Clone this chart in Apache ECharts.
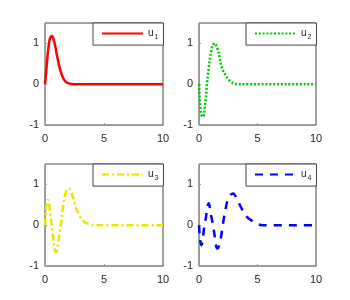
<!DOCTYPE html>
<html><head><meta charset="utf-8">
<script src="https://cdn.jsdelivr.net/npm/echarts@6/dist/echarts.min.js"></script>
<style>html,body{margin:0;padding:0;background:#fff}#c{width:350px;height:300px}</style>
</head><body><div id="c"></div>
<script>
const t1 = [0, 0.05, 0.1, 0.2, 0.3, 0.4, 0.5, 0.6, 0.7, 0.8, 0.9, 1.0, 1.2, 1.4, 1.6, 1.8, 2.0, 2.5, 3, 10];
const u1 = [0, 0.15, 0.3, 0.65, 0.92, 1.1, 1.17, 1.18, 1.13, 1.02, 0.88, 0.73, 0.45, 0.25, 0.12, 0.05, 0.02, 0, 0, 0];
const t2 = [0, 0.03, 0.06, 0.12, 0.2, 0.3, 0.43, 0.49, 0.58, 0.63, 0.69, 0.77, 0.86, 0.95, 1.06, 1.18, 1.35, 1.55, 1.72, 1.86, 2.06, 2.29, 2.64, 3.07, 3.5, 10];
const u2 = [0, -0.2, -0.375, -0.58, -0.75, -0.8, -0.75, -0.58, -0.375, -0.17, 0.04, 0.25, 0.46, 0.67, 0.83, 0.96, 1.0, 0.89, 0.71, 0.5, 0.33, 0.21, 0.08, 0.01, 0, 0];
const t3 = [0, 0.1, 0.2, 0.3, 0.42, 0.57, 0.7, 0.8, 0.9, 1.0, 1.13, 1.33, 1.55, 1.78, 2.03, 2.31, 2.6, 2.97, 3.39, 3.95, 4.5, 10];
const u3 = [0, 0.4, 0.62, 0.6, 0.33, 0, -0.32, -0.55, -0.66, -0.62, -0.4, 0, 0.5, 0.82, 0.9, 0.74, 0.45, 0.21, 0.07, 0.01, 0, 0];
const t4 = [0, 0.06, 0.12, 0.2, 0.3, 0.43, 0.58, 0.72, 0.83, 0.92, 1.0, 1.2, 1.35, 1.55, 1.7, 1.84, 2.01, 2.15, 2.35, 2.55, 2.92, 3.21, 3.64, 4.07, 4.64, 5.07, 5.5, 10];
const u4 = [0, -0.25, -0.4, -0.49, -0.4, -0.08, 0.17, 0.45, 0.54, 0.45, 0.29, 0, -0.28, -0.57, -0.52, -0.36, -0.04, 0.21, 0.5, 0.7, 0.78, 0.66, 0.41, 0.21, 0.09, 0.02, 0, 0];
const xTicks = [0, 5, 10];
const yTicks = [-1, 0, 1];
const names = ['u1', 'u2', 'u3', 'u4'];

const ts = [t1, t2, t3, t4];
const us = [u1, u2, u3, u4];
const colors = ['#ff0000', '#00c800', '#e6e600', '#0000ff'];
const dashes = ['solid', [2, 1.8], [7, 3, 2, 3], [8, 7]];
const grids = [
  {left: 45, top: 23, width: 118, height: 102},
  {left: 199, top: 23, width: 117, height: 102},
  {left: 45, top: 164, width: 118, height: 102},
  {left: 199, top: 164, width: 117, height: 102}
];
const font = 'Liberation Sans, Arial, sans-serif';
const option = {
  animation: false,
  backgroundColor: '#fff',
  grid: grids.map(g => Object.assign({show: true, borderColor: '#444', borderWidth: 1, backgroundColor: 'transparent'}, g)),
  xAxis: grids.map((g, i) => ({
    type: 'value', gridIndex: i, min: xTicks[0], max: xTicks[xTicks.length - 1], interval: 5,
    axisLine: {show: true, onZero: false, lineStyle: {color: '#999', width: 1}},
    axisTick: {show: true, inside: true, length: 2, lineStyle: {color: '#999'}},
    axisLabel: {fontSize: 11, color: '#262626', margin: 8, fontFamily: font},
    splitLine: {show: false}
  })),
  yAxis: grids.map((g, i) => ({
    type: 'value', gridIndex: i, min: yTicks[0], max: 1.5, interval: 1,
    axisLine: {show: true, onZero: false, lineStyle: {color: '#999', width: 1}},
    axisTick: {show: true, inside: true, length: 2, lineStyle: {color: '#999'}},
    axisLabel: {fontSize: 11, color: '#262626', margin: 6, fontFamily: font, showMaxLabel: false},
    splitLine: {show: false}
  })),
  legend: grids.map((g, i) => ({
    data: [names[i]],
    left: g.left + g.width - 70, top: g.top, width: 70,
    padding: [5, 5, 5, 8],
    itemWidth: 41, itemHeight: 14,
    itemStyle: {opacity: 0},
    borderColor: '#444', borderWidth: 1, backgroundColor: '#fff',
    formatter: n => '{a|u}{b|' + n.slice(1) + '}',
    textStyle: {
      fontFamily: font, color: '#262626',
      rich: {a: {fontSize: 10, fontFamily: font, color: '#262626'}, b: {fontSize: 7, fontFamily: font, color: '#262626', verticalAlign: 'bottom', padding: [6, 0, 0, 1]}}
    }
  })),
  series: names.map((n, i) => ({
    name: n, type: 'line', xAxisIndex: i, yAxisIndex: i,
    data: ts[i].map((t, k) => [t, us[i][k]]),
    showSymbol: false, symbol: 'none', smooth: 0.35,
    color: colors[i],
    lineStyle: {color: colors[i], width: 2.5, type: dashes[i]}
  }))
};
const chart = echarts.init(document.getElementById('c'), null, {renderer: 'canvas'});
chart.setOption(option);
</script></body></html>
